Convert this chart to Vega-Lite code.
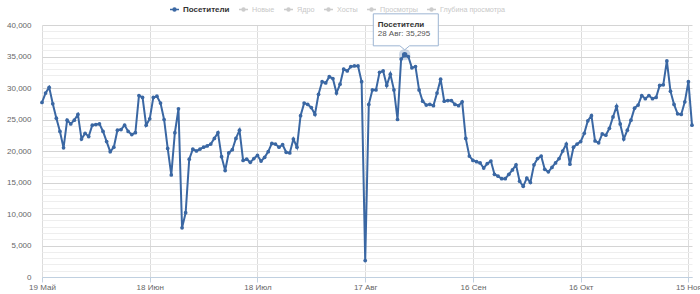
{
  "$schema": "https://vega.github.io/schema/vega-lite/v6.json",
  "width": 650,
  "height": 252,
  "autosize": {"type": "none"},
  "padding": {"left": 42, "top": 25, "right": 8, "bottom": 17},
  "background": "white",
  "config": {
    "view": {"stroke": null},
    "font": "Liberation Sans"
  },
  "data": {
    "values": [
      {"date":"2013-05-19","visits":27700,"series":"Посетители"},
      {"date":"2013-05-20","visits":29200,"series":"Посетители"},
      {"date":"2013-05-21","visits":30100,"series":"Посетители"},
      {"date":"2013-05-22","visits":27500,"series":"Посетители"},
      {"date":"2013-05-23","visits":25200,"series":"Посетители"},
      {"date":"2013-05-24","visits":23100,"series":"Посетители"},
      {"date":"2013-05-25","visits":20500,"series":"Посетители"},
      {"date":"2013-05-26","visits":24900,"series":"Посетители"},
      {"date":"2013-05-27","visits":24300,"series":"Посетители"},
      {"date":"2013-05-28","visits":24900,"series":"Посетители"},
      {"date":"2013-05-29","visits":25800,"series":"Посетители"},
      {"date":"2013-05-30","visits":21900,"series":"Посетители"},
      {"date":"2013-05-31","visits":22800,"series":"Посетители"},
      {"date":"2013-06-01","visits":22300,"series":"Посетители"},
      {"date":"2013-06-02","visits":24100,"series":"Посетители"},
      {"date":"2013-06-03","visits":24200,"series":"Посетители"},
      {"date":"2013-06-04","visits":24300,"series":"Посетители"},
      {"date":"2013-06-05","visits":23100,"series":"Посетители"},
      {"date":"2013-06-06","visits":21500,"series":"Посетители"},
      {"date":"2013-06-07","visits":19900,"series":"Посетители"},
      {"date":"2013-06-08","visits":20600,"series":"Посетители"},
      {"date":"2013-06-09","visits":23300,"series":"Посетители"},
      {"date":"2013-06-10","visits":23400,"series":"Посетители"},
      {"date":"2013-06-11","visits":24100,"series":"Посетители"},
      {"date":"2013-06-12","visits":23100,"series":"Посетители"},
      {"date":"2013-06-13","visits":22600,"series":"Посетители"},
      {"date":"2013-06-14","visits":22900,"series":"Посетители"},
      {"date":"2013-06-15","visits":28800,"series":"Посетители"},
      {"date":"2013-06-16","visits":28500,"series":"Посетители"},
      {"date":"2013-06-17","visits":24100,"series":"Посетители"},
      {"date":"2013-06-18","visits":25100,"series":"Посетители"},
      {"date":"2013-06-19","visits":28500,"series":"Посетители"},
      {"date":"2013-06-20","visits":28700,"series":"Посетители"},
      {"date":"2013-06-21","visits":27600,"series":"Посетители"},
      {"date":"2013-06-22","visits":25000,"series":"Посетители"},
      {"date":"2013-06-23","visits":20400,"series":"Посетители"},
      {"date":"2013-06-24","visits":16200,"series":"Посетители"},
      {"date":"2013-06-25","visits":22900,"series":"Посетители"},
      {"date":"2013-06-26","visits":26700,"series":"Посетители"},
      {"date":"2013-06-27","visits":7800,"series":"Посетители"},
      {"date":"2013-06-28","visits":10200,"series":"Посетители"},
      {"date":"2013-06-29","visits":18700,"series":"Посетители"},
      {"date":"2013-06-30","visits":20300,"series":"Посетители"},
      {"date":"2013-07-01","visits":20000,"series":"Посетители"},
      {"date":"2013-07-02","visits":20300,"series":"Посетители"},
      {"date":"2013-07-03","visits":20600,"series":"Посетители"},
      {"date":"2013-07-04","visits":20800,"series":"Посетители"},
      {"date":"2013-07-05","visits":21100,"series":"Посетители"},
      {"date":"2013-07-06","visits":22000,"series":"Посетители"},
      {"date":"2013-07-07","visits":22900,"series":"Посетители"},
      {"date":"2013-07-08","visits":19100,"series":"Посетители"},
      {"date":"2013-07-09","visits":16900,"series":"Посетители"},
      {"date":"2013-07-10","visits":19700,"series":"Посетители"},
      {"date":"2013-07-11","visits":20200,"series":"Посетители"},
      {"date":"2013-07-12","visits":22000,"series":"Посетители"},
      {"date":"2013-07-13","visits":23300,"series":"Посетители"},
      {"date":"2013-07-14","visits":18500,"series":"Посетители"},
      {"date":"2013-07-15","visits":18700,"series":"Посетители"},
      {"date":"2013-07-16","visits":18200,"series":"Посетители"},
      {"date":"2013-07-17","visits":18800,"series":"Посетители"},
      {"date":"2013-07-18","visits":19300,"series":"Посетители"},
      {"date":"2013-07-19","visits":18400,"series":"Посетители"},
      {"date":"2013-07-20","visits":19000,"series":"Посетители"},
      {"date":"2013-07-21","visits":19900,"series":"Посетители"},
      {"date":"2013-07-22","visits":21200,"series":"Посетители"},
      {"date":"2013-07-23","visits":21100,"series":"Посетители"},
      {"date":"2013-07-24","visits":20600,"series":"Посетители"},
      {"date":"2013-07-25","visits":21000,"series":"Посетители"},
      {"date":"2013-07-26","visits":19800,"series":"Посетители"},
      {"date":"2013-07-27","visits":19700,"series":"Посетители"},
      {"date":"2013-07-28","visits":21900,"series":"Посетители"},
      {"date":"2013-07-29","visits":20600,"series":"Посетители"},
      {"date":"2013-07-30","visits":25600,"series":"Посетители"},
      {"date":"2013-07-31","visits":27600,"series":"Посетители"},
      {"date":"2013-08-01","visits":27400,"series":"Посетители"},
      {"date":"2013-08-02","visits":26900,"series":"Посетители"},
      {"date":"2013-08-03","visits":25800,"series":"Посетители"},
      {"date":"2013-08-04","visits":29000,"series":"Посетители"},
      {"date":"2013-08-05","visits":31000,"series":"Посетители"},
      {"date":"2013-08-06","visits":30800,"series":"Посетители"},
      {"date":"2013-08-07","visits":31800,"series":"Посетители"},
      {"date":"2013-08-08","visits":31500,"series":"Посетители"},
      {"date":"2013-08-09","visits":29200,"series":"Посетители"},
      {"date":"2013-08-10","visits":30600,"series":"Посетители"},
      {"date":"2013-08-11","visits":33000,"series":"Посетители"},
      {"date":"2013-08-12","visits":32700,"series":"Посетители"},
      {"date":"2013-08-13","visits":33400,"series":"Посетители"},
      {"date":"2013-08-14","visits":33500,"series":"Посетители"},
      {"date":"2013-08-15","visits":33500,"series":"Посетители"},
      {"date":"2013-08-16","visits":31000,"series":"Посетители"},
      {"date":"2013-08-17","visits":2600,"series":"Посетители"},
      {"date":"2013-08-18","visits":27400,"series":"Посетители"},
      {"date":"2013-08-19","visits":29700,"series":"Посетители"},
      {"date":"2013-08-20","visits":29700,"series":"Посетители"},
      {"date":"2013-08-21","visits":32500,"series":"Посетители"},
      {"date":"2013-08-22","visits":32700,"series":"Посетители"},
      {"date":"2013-08-23","visits":30400,"series":"Посетители"},
      {"date":"2013-08-24","visits":32200,"series":"Посетители"},
      {"date":"2013-08-25","visits":29700,"series":"Посетители"},
      {"date":"2013-08-26","visits":25000,"series":"Посетители"},
      {"date":"2013-08-27","visits":34600,"series":"Посетители"},
      {"date":"2013-08-28","visits":35295,"series":"Посетители"},
      {"date":"2013-08-29","visits":35000,"series":"Посетители"},
      {"date":"2013-08-30","visits":33200,"series":"Посетители"},
      {"date":"2013-08-31","visits":33400,"series":"Посетители"},
      {"date":"2013-09-01","visits":29700,"series":"Посетители"},
      {"date":"2013-09-02","visits":27900,"series":"Посетители"},
      {"date":"2013-09-03","visits":27300,"series":"Посетители"},
      {"date":"2013-09-04","visits":27400,"series":"Посетители"},
      {"date":"2013-09-05","visits":27200,"series":"Посетители"},
      {"date":"2013-09-06","visits":29200,"series":"Посетители"},
      {"date":"2013-09-07","visits":31400,"series":"Посетители"},
      {"date":"2013-09-08","visits":27900,"series":"Посетители"},
      {"date":"2013-09-09","visits":28000,"series":"Посетители"},
      {"date":"2013-09-10","visits":28000,"series":"Посетители"},
      {"date":"2013-09-11","visits":27400,"series":"Посетители"},
      {"date":"2013-09-12","visits":27200,"series":"Посетители"},
      {"date":"2013-09-13","visits":27800,"series":"Посетители"},
      {"date":"2013-09-14","visits":22000,"series":"Посетители"},
      {"date":"2013-09-15","visits":19200,"series":"Посетители"},
      {"date":"2013-09-16","visits":18500,"series":"Посетители"},
      {"date":"2013-09-17","visits":18300,"series":"Посетители"},
      {"date":"2013-09-18","visits":18100,"series":"Посетители"},
      {"date":"2013-09-19","visits":17300,"series":"Посетители"},
      {"date":"2013-09-20","visits":18000,"series":"Посетители"},
      {"date":"2013-09-21","visits":18400,"series":"Посетители"},
      {"date":"2013-09-22","visits":16300,"series":"Посетители"},
      {"date":"2013-09-23","visits":16000,"series":"Посетители"},
      {"date":"2013-09-24","visits":15600,"series":"Посетители"},
      {"date":"2013-09-25","visits":15600,"series":"Посетители"},
      {"date":"2013-09-26","visits":16300,"series":"Посетители"},
      {"date":"2013-09-27","visits":17000,"series":"Посетители"},
      {"date":"2013-09-28","visits":17800,"series":"Посетители"},
      {"date":"2013-09-29","visits":15200,"series":"Посетители"},
      {"date":"2013-09-30","visits":14400,"series":"Посетители"},
      {"date":"2013-10-01","visits":15700,"series":"Посетители"},
      {"date":"2013-10-02","visits":15000,"series":"Посетители"},
      {"date":"2013-10-03","visits":17800,"series":"Посетители"},
      {"date":"2013-10-04","visits":18800,"series":"Посетители"},
      {"date":"2013-10-05","visits":19200,"series":"Посетители"},
      {"date":"2013-10-06","visits":17100,"series":"Посетители"},
      {"date":"2013-10-07","visits":16700,"series":"Посетители"},
      {"date":"2013-10-08","visits":17400,"series":"Посетители"},
      {"date":"2013-10-09","visits":18100,"series":"Посетители"},
      {"date":"2013-10-10","visits":18800,"series":"Посетители"},
      {"date":"2013-10-11","visits":20000,"series":"Посетители"},
      {"date":"2013-10-12","visits":21100,"series":"Посетители"},
      {"date":"2013-10-13","visits":17900,"series":"Посетители"},
      {"date":"2013-10-14","visits":20600,"series":"Посетители"},
      {"date":"2013-10-15","visits":21100,"series":"Посетители"},
      {"date":"2013-10-16","visits":21500,"series":"Посетители"},
      {"date":"2013-10-17","visits":22800,"series":"Посетители"},
      {"date":"2013-10-18","visits":24800,"series":"Посетители"},
      {"date":"2013-10-19","visits":25600,"series":"Посетители"},
      {"date":"2013-10-20","visits":21600,"series":"Посетители"},
      {"date":"2013-10-21","visits":21300,"series":"Посетители"},
      {"date":"2013-10-22","visits":22700,"series":"Посетители"},
      {"date":"2013-10-23","visits":22500,"series":"Посетители"},
      {"date":"2013-10-24","visits":23600,"series":"Посетители"},
      {"date":"2013-10-25","visits":25400,"series":"Посетители"},
      {"date":"2013-10-26","visits":27100,"series":"Посетители"},
      {"date":"2013-10-27","visits":24300,"series":"Посетители"},
      {"date":"2013-10-28","visits":21900,"series":"Посетители"},
      {"date":"2013-10-29","visits":23300,"series":"Посетители"},
      {"date":"2013-10-30","visits":24900,"series":"Посетители"},
      {"date":"2013-10-31","visits":26800,"series":"Посетители"},
      {"date":"2013-11-01","visits":27300,"series":"Посетители"},
      {"date":"2013-11-02","visits":28800,"series":"Посетители"},
      {"date":"2013-11-03","visits":28300,"series":"Посетители"},
      {"date":"2013-11-04","visits":28800,"series":"Посетители"},
      {"date":"2013-11-05","visits":28300,"series":"Посетители"},
      {"date":"2013-11-06","visits":28500,"series":"Посетители"},
      {"date":"2013-11-07","visits":30400,"series":"Посетители"},
      {"date":"2013-11-08","visits":30500,"series":"Посетители"},
      {"date":"2013-11-09","visits":34300,"series":"Посетители"},
      {"date":"2013-11-10","visits":29500,"series":"Посетители"},
      {"date":"2013-11-11","visits":27400,"series":"Посетители"},
      {"date":"2013-11-12","visits":25900,"series":"Посетители"},
      {"date":"2013-11-13","visits":25800,"series":"Посетители"},
      {"date":"2013-11-14","visits":27800,"series":"Посетители"},
      {"date":"2013-11-15","visits":31000,"series":"Посетители"},
      {"date":"2013-11-16","visits":24100,"series":"Посетители"}
    ]
  },
  "encoding": {
    "x": {
      "field": "date",
      "type": "temporal",
      "title": null,
      "scale": {
        "type": "utc",
        "domain": [
          {"year": 2013, "month": 5, "date": 19, "utc": true},
          {"year": 2013, "month": 11, "date": 16, "utc": true}
        ]
      },
      "axis": {
        "values": [
          {"year": 2013, "month": 5, "date": 19, "utc": true},
          {"year": 2013, "month": 6, "date": 18, "utc": true},
          {"year": 2013, "month": 7, "date": 18, "utc": true},
          {"year": 2013, "month": 8, "date": 17, "utc": true},
          {"year": 2013, "month": 9, "date": 16, "utc": true},
          {"year": 2013, "month": 10, "date": 16, "utc": true},
          {"year": 2013, "month": 11, "date": 15, "utc": true}
        ],
        "labelExpr": "utcdate(datum.value) + ' ' + ['Янв','Фев','Мар','Апр','Май','Июн','Июл','Авг','Сен','Окт','Ноя','Дек'][utcmonth(datum.value)]",
        "grid": true,
        "gridColor": "#dcdcdc",
        "gridWidth": 1,
        "domainColor": "#C0D0E0",
        "tickColor": "#C0D0E0",
        "tickSize": 5,
        "labelPadding": 1,
        "labelFontSize": 8,
        "labelColor": "#666666",
        "labelFont": "Liberation Sans",
        "labelOverlap": false,
        "labelFlush": false
      }
    },
    "y": {
      "field": "visits",
      "type": "quantitative",
      "title": null,
      "scale": {"domain": [0, 40000], "nice": false, "zero": true},
      "axis": {
        "values": [0,1000,2000,3000,4000,5000,6000,7000,8000,9000,10000,11000,12000,13000,14000,15000,16000,17000,18000,19000,20000,21000,22000,23000,24000,25000,26000,27000,28000,29000,30000,31000,32000,33000,34000,35000,36000,37000,38000,39000,40000],
        "labelExpr": "datum.value % 5000 === 0 ? format(datum.value, ',') : ''",
        "grid": true,
        "gridColor": {"condition": {"test": "datum.value % 5000 === 0", "value": "#d4d4d4"}, "value": "#eeeeee"},
        "domain": false,
        "ticks": false,
        "labelPadding": 11,
        "labelFontSize": 8,
        "labelColor": "#666666",
        "labelFont": "Liberation Sans",
        "labelOverlap": false
      }
    }
  },
  "layer": [
    {
      "mark": {"type": "line", "strokeWidth": 2, "point": {"filled": true, "size": 14}},
      "encoding": {
        "color": {
          "field": "series",
          "type": "nominal",
          "scale": {
            "domain": ["Посетители", "Новые", "Ядро", "Хосты", "Просмотры", "Глубина просмотра"],
            "range": ["#3a67a3", "#cccccc", "#cccccc", "#cccccc", "#cccccc", "#cccccc"]
          },
          "legend": {
            "title": null,
            "orient": "none",
            "direction": "horizontal",
            "legendX": 127,
            "legendY": -21,
            "padding": 0,
            "columnPadding": 6,
            "labelOffset": 3,
            "labelFontSize": 8,
            "labelFont": "Liberation Sans",
            "symbolType": "M-1,0 L1,0 M-0.32,0 A0.32,0.32 0 1,1 0.32,0 A0.32,0.32 0 1,1 -0.32,0",
            "symbolSize": 81,
            "symbolStrokeWidth": 1.5,
            "encode": {
              "labels": {
                "update": {
                  "fill": {"signal": "datum.label === 'Посетители' ? '#333333' : '#c8c8c8'"},
                  "fontWeight": {"signal": "datum.label === 'Посетители' ? 'bold' : 'normal'"},
                  "fontSize": {"signal": "datum.label === 'Посетители' ? 8 : 7.2"}
                }
              },
              "symbols": {
                "update": {
                  "fill": {"signal": "datum.label === 'Посетители' ? '#3a67a3' : '#c8c8c8'"},
                  "stroke": {"signal": "datum.label === 'Посетители' ? '#3a67a3' : '#c8c8c8'"}
                }
              }
            }
          }
        }
      }
    },
    {
      "transform": [{"filter": {"field": "visits", "equal": 35295}}],
      "mark": {"type": "point", "filled": true, "size": 130, "color": "#3a67a3", "opacity": 0.25}
    },
    {
      "transform": [{"filter": {"field": "visits", "equal": 35295}}],
      "mark": {"type": "point", "filled": true, "size": 30, "color": "#3a67a3", "opacity": 1}
    },
    {
      "transform": [{"filter": {"field": "visits", "equal": 35295}}],
      "mark": {
        "type": "point",
        "shape": "M-0.785,-1.02 L0.84,-1.02 L0.84,-0.22 L0.12,-0.22 L0,-0.12 L-0.12,-0.22 L-0.785,-0.22 Z",
        "size": 6400,
        "filled": true,
        "fill": "#ffffff",
        "fillOpacity": 0.9,
        "stroke": "#9db5d3",
        "strokeWidth": 1,
        "opacity": 1
      }
    },
    {
      "transform": [{"filter": {"field": "visits", "equal": 35295}}],
      "mark": {
        "type": "text",
        "text": "Посетители",
        "align": "left",
        "baseline": "middle",
        "dx": -27,
        "dy": -30,
        "fontSize": 8,
        "fontWeight": "bold",
        "font": "Liberation Sans",
        "color": "#333333"
      }
    },
    {
      "transform": [{"filter": {"field": "visits", "equal": 35295}}],
      "mark": {
        "type": "text",
        "text": "28 Авг: 35,295",
        "align": "left",
        "baseline": "middle",
        "dx": -27,
        "dy": -21,
        "fontSize": 8,
        "font": "Liberation Sans",
        "color": "#555555"
      }
    }
  ]
}
